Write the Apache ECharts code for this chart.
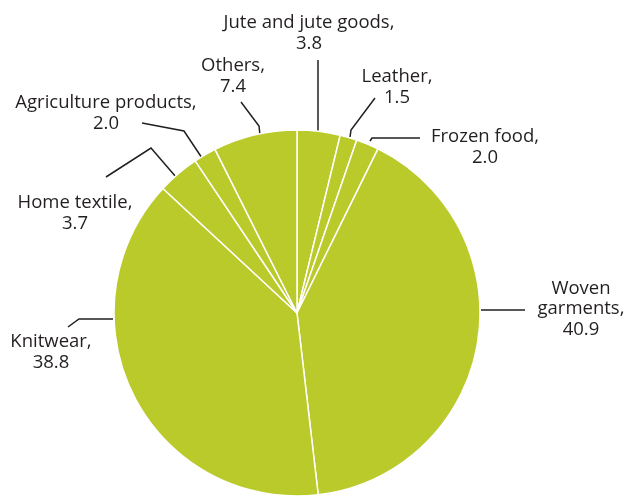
<!DOCTYPE html>
<html>
<head>
<meta charset="utf-8">
<script src="https://cdn.jsdelivr.net/npm/echarts@6/dist/echarts.min.js"></script>
<style>
  html, body { margin: 0; padding: 0; background: #ffffff; }
  #chart { width: 626px; height: 496px; }
</style>
</head>
<body>
<div id="chart"></div>
<script>
// Export shares by product group (%), clockwise from 12 o'clock
const categories = ['Jute and jute goods', 'Leather', 'Frozen food', 'Woven garments',
                    'Knitwear', 'Home textile', 'Agriculture products', 'Others'];
const shares = [3.8, 1.5, 2.0, 40.9, 38.8, 3.7, 2.0, 7.4];
// How each category name wraps in its label
const labelNames = ['Jute and jute goods,', 'Leather,', 'Frozen food,', 'Woven\ngarments,',
                    'Knitwear,', 'Home textile,', 'Agriculture products,', 'Others,'];

// Label block centres and leader-line paths (edge -> bend -> label end), in pixels
const labelCentres = [[309, 33], [397, 87], [485, 147], [581, 309],
                      [51, 352], [75, 213], [106, 113], [233, 76]];
const leaderPaths = [
  [[318, 133], [318, 60]],
  [[350, 137], [351, 130], [375, 98]],
  [[370, 141], [372, 138], [420, 138]],
  [[481, 310], [525, 310]],
  [[113, 319], [79, 319], [68, 327]],
  [[176, 177], [151, 148], [106, 177]],
  [[202, 158], [184, 131], [142, 123]],
  [[260, 135], [259, 126], [241, 102]]
];

const chart = echarts.init(document.getElementById('chart'), null, { renderer: 'canvas' });

chart.setOption({
  backgroundColor: '#ffffff',
  animation: false,
  series: [{
    type: 'pie',
    center: [297, 313],
    radius: 183,
    startAngle: 90,
    clockwise: true,
    avoidLabelOverlap: false,
    itemStyle: {
      color: '#b9ca2a',
      borderColor: '#ffffff',
      borderWidth: 1.5
    },
    label: {
      show: true,
      position: 'outside',
      fontFamily: 'Open Sans',
      fontSize: 18.5,
      lineHeight: 20.5,
      color: '#231f20',
      align: 'center',
      formatter: p => labelNames[p.dataIndex] + '\n' + p.value.toFixed(1)
    },
    labelLine: {
      show: true,
      lineStyle: { color: '#231f20', width: 1.5 }
    },
    labelLayout: p => ({
      x: labelCentres[p.dataIndex][0],
      y: labelCentres[p.dataIndex][1],
      align: 'center',
      verticalAlign: 'middle',
      labelLinePoints: leaderPaths[p.dataIndex]
    }),
    emphasis: { disabled: true },
    data: categories.map((name, i) => ({ name: name, value: shares[i] }))
  }]
});
</script>
</body>
</html>
